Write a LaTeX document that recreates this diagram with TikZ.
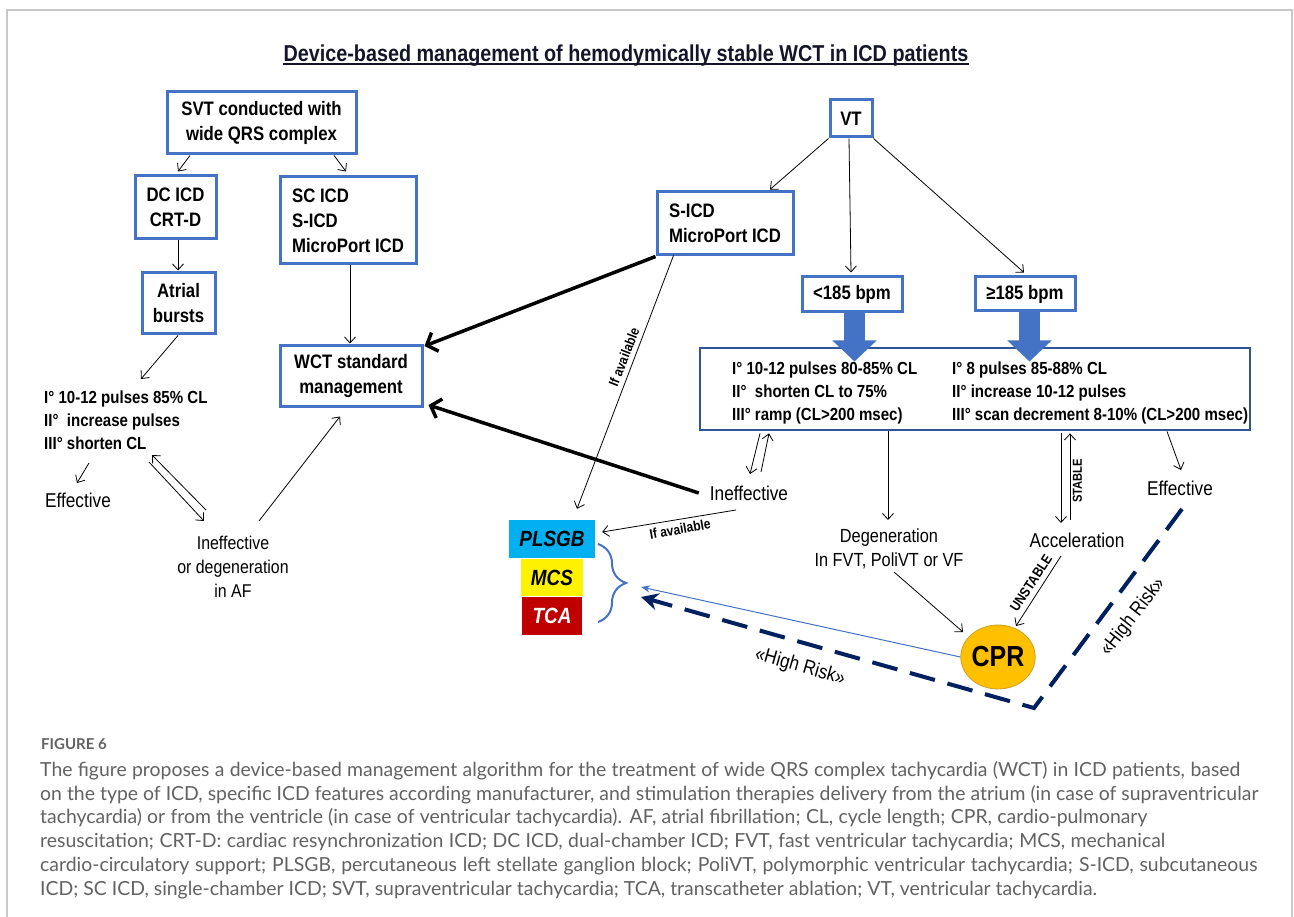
\documentclass[tikz,border=0pt]{standalone}
\usepackage{fontspec}
\setmainfont[FakeStretch=0.86]{Liberation Sans}
\newfontfamily\capfont{Lato}
\usetikzlibrary{arrows.meta,shapes.geometric,decorations.pathreplacing,calc}
\definecolor{boxblue}{HTML}{4472C4}
\definecolor{bigblue}{HTML}{2F5597}
\definecolor{navyc}{HTML}{002060}
\definecolor{plsgbc}{HTML}{00B0F0}
\definecolor{tcared}{HTML}{C00000}
\definecolor{cprfill}{HTML}{FFC000}
\definecolor{cprdraw}{HTML}{C9A227}
\definecolor{capgray}{HTML}{626262}
\definecolor{framegray}{HTML}{C8C8C8}
\definecolor{titlec}{HTML}{15152A}
\tikzset{
 bbox/.style={draw=boxblue, line width=3pt, inner sep=0pt, font=\bfseries\fontsize{19.5}{25}\selectfont, align=center},
 arr/.style={-{Straight Barb[length=6pt,width=11pt]}, line width=0.8pt},
 thickarr/.style={-{Straight Barb[length=9pt,width=20pt]}, line width=3.5pt},
 plain/.style={font=\fontsize{20}{24}\selectfont, inner sep=2pt, align=center},
 smalllbl/.style={font=\bfseries\fontsize{14}{16}\selectfont, inner sep=0pt},
 therapy/.style={font=\bfseries\fontsize{17.5}{23}\selectfont, align=left, inner sep=0pt, anchor=west},
 colbox/.style={inner sep=0pt, font=\bfseries\itshape\fontsize{22}{26}\selectfont},
 captxt/.style={font=\capfont\fontsize{19.4}{24}\selectfont, text=capgray, anchor=base west, inner sep=0pt},
 blockarr/.style={-{Triangle[length=21pt,width=43pt]}, line width=21pt, draw=boxblue},
}
\begin{document}
\begin{tikzpicture}[x=1pt,y=-1pt]
\useasboundingbox (0,0) rectangle (1294,917);
\fill[white] (0,0) rectangle (1294,917);
\draw[framegray, line width=1.5pt] (7,917) -- (7,10) -- (1292,10) -- (1292,917);

% title
\node[inner sep=0pt, font=\bfseries\fontsize{23}{27}\selectfont, text=titlec, anchor=base] (title) at (626,61.5) {Device-based management of hemodymically stable WCT in ICD patients};
\draw[titlec, line width=1.2pt] ([yshift=-2.5pt]title.base west) -- ([yshift=-2.5pt]title.base east);

% left boxes
\node[bbox, minimum width=189pt, minimum height=62pt] (svt) at (261.5,123) {SVT conducted with\\wide QRS complex};
\node[bbox, minimum width=81pt, minimum height=63pt] (dc) at (175.5,207.5) {DC ICD\\CRT-D};
\node[bbox, minimum width=136pt, minimum height=87pt, align=left] (sc) at (348,220.5) {SC ICD\\S-ICD\\MicroPort ICD};
\node[bbox, minimum width=73pt, minimum height=61pt] (atrial) at (178.5,303.5) {Atrial\\bursts};
\node[bbox, minimum width=142pt, minimum height=61pt] (wct) at (351,376.5) {WCT standard\\management};

\node[therapy] (lefttxt) at (44,420.5) {I° 10-12 pulses 85\% CL\\II°~ increase pulses\\III° shorten CL};
\node[plain] (effL) at (78,500) {Effective};
\node[plain, font=\fontsize{18.5}{24}\selectfont] (ineffL) at (233,567) {Ineffective\\or degeneration\\in AF};

% right boxes
\node[bbox, minimum width=42pt, minimum height=37pt] (vt) at (851,118.5) {VT};
\node[bbox, minimum width=136pt, minimum height=63pt, align=left] (sicd) at (725,223.5) {S-ICD\\MicroPort ICD};
\node[bbox, minimum width=100pt, minimum height=35pt] (lt185) at (852,294.5) {<185 bpm};
\node[bbox, minimum width=100pt, minimum height=34pt] (ge185) at (1025,294) {≥185 bpm};
\node[draw=bigblue, line width=2.8pt, minimum width=550pt, minimum height=82pt, inner sep=0pt] (big) at (975,389) {};
\node[therapy] (thl) at (732,393) {I° 10-12 pulses 80-85\% CL\\II°~ shorten CL to 75\%\\III° ramp (CL>200 msec)};
\node[therapy] (thr) at (952,393) {I° 8 pulses 85-88\% CL\\II° increase 10-12 pulses\\III° scan decrement 8-10\% (CL>200 msec)};

\node[plain] (ineffR) at (749,493) {Ineffective};
\node[plain, font=\fontsize{19}{24}\selectfont] (degen) at (889,549) {Degeneration\\In FVT, PoliVT or VF};
\node[plain] (accel) at (1077,540) {Acceleration};
\node[plain] (effR) at (1180,488) {Effective};

\node[ellipse, fill=cprfill, draw=cprdraw, line width=0.8pt, minimum width=72pt, minimum height=64pt, inner sep=0pt, font=\bfseries\fontsize{29}{30}\selectfont] (cpr) at (998,657) {CPR};

\node[colbox, fill=plsgbc, minimum width=86pt, minimum height=38pt] (plsgb) at (552,539) {PLSGB};
\node[colbox, fill=yellow, minimum width=62pt, minimum height=37pt] (mcs) at (552,577.5) {MCS};
\node[colbox, fill=tcared, text=white, minimum width=60pt, minimum height=38pt] (tca) at (552,616) {TCA};

% brace
\coordinate (btop) at (598,544);
\coordinate (bbot) at (598,622);
\coordinate (btip) at (626,583);
\draw[boxblue, line width=2pt, decorate, decoration={brace, amplitude=28pt}] (btop) -- (bbot);

% left connectors
\draw[arr] ([shift={(-71.5,0)}]svt.south) -- ([shift={(2.5,-3)}]dc.north);
\draw[arr] ([shift={(72.5,0)}]svt.south) -- ([shift={(-2,-4)}]sc.north);
\draw[arr] ([xshift=2.5pt]dc.south) -- ([shift={(-0.5,-1)}]atrial.north);
\draw[arr] ([xshift=2pt]sc.south) -- ([shift={(-1,-1)}]wct.north);
\draw[arr] ([xshift=-0.5pt]atrial.south) -- ([shift={(97,-41.5)}]lefttxt.west);
\draw[arr] ([shift={(45,42.5)}]lefttxt.west) -- ([shift={(-1,-17)}]effL.center);
\draw[arr] ([shift={(105,41.5)}]lefttxt.west) -- ([shift={(-29,-46)}]ineffL.center);
\draw[arr] ([shift={(-27,-57)}]ineffL.center) -- ([shift={(108,34.5)}]lefttxt.west);
\draw[arr] ([shift={(26,-46)}]ineffL.center) -- ([shift={(-11,8)}]wct.south);

% right connectors
\draw[arr] (vt.south west) -- ([shift={(45,-1)}]sicd.north);
\draw[arr] ([xshift=-2pt]vt.south) -- ([shift={(-1,-3)}]lt185.north);
\draw[arr] (vt.south east) -- ([shift={(-1,-3)}]ge185.north);
\draw[blockarr] ([xshift=2.5pt]lt185.south) -- ++(0,48);
\draw[blockarr] ([xshift=4.5pt]ge185.south) -- ++(0,49);

\draw[arr] ([shift={(-215,2)}]big.south) -- ([shift={(1,-19)}]ineffR.center);
\draw[arr] ([shift={(12,-21)}]ineffR.center) -- ([shift={(-206,2)}]big.south);
\draw[arr] ([shift={(-87,0)}]big.south) -- ([shift={(-1,-29)}]degen.center);
\draw[arr] ([shift={(86,2)}]big.south) -- ([shift={(-16,-17)}]accel.center);
\draw[arr] ([shift={(-7,-20)}]accel.center) -- ([shift={(95,2)}]big.south);
\node[smalllbl, font=\bfseries\fontsize{13}{15}\selectfont, rotate=90] (stable) at (1077.5,481) {STABLE};
\draw[arr] ([shift={(192,0)}]big.south) -- ([shift={(1,-18)}]effR.center);

\draw[thickarr] (sicd.south west) -- ([shift={(1,-30.5)}]wct.east);
\draw[thickarr] ([xshift=-9pt]ineffR.west) -- ([shift={(5,28.5)}]wct.east);

\draw[arr] ([shift={(18,-1)}]sicd.south west) -- ([shift={(25,-11)}]plsgb.north);
\node[smalllbl, rotate=68.7] (ifa1) at (624,357) {If available};
\draw[arr] ([shift={(-13,17)}]ineffR.center) -- ([shift={(7,-7)}]plsgb.east);
\node[smalllbl, rotate=10] (ifa2) at (680,529) {If available};

\draw[arr] ([shift={(5,23)}]degen.center) -- ([shift={(-35,-25)}]cpr.center);
\draw[arr] ([shift={(-16,16)}]accel.center) -- ([shift={(18,-31)}]cpr.center);
\node[smalllbl, rotate=57] (unst) at (1031,583) {UNSTABLE};

\draw[boxblue, line width=1pt, -{Stealth[length=9pt,width=7pt]}] (cpr.west) -- ([shift={(15,4)}]btip);

\coordinate (hr) at (1034,708);
\draw[navyc, line width=4pt, dash pattern=on 26pt off 13pt, -{Stealth[length=17pt,width=17pt]}] ([shift={(2,21)}]effR.center) -- (hr) -- ([shift={(15,14)}]btip);
\node[plain, rotate=-16] (hr1) at (800,667) {«High Risk»};
\node[plain, rotate=52] (hr2) at (1133,617) {«High Risk»};

% caption
\node[captxt, font=\capfont\bfseries\fontsize{15}{18}\selectfont] (fig) at (41,749) {FIGURE 6};
\node[captxt] (c1) at (40,776.5) {\makebox[1200pt][s]{The figure proposes a device-based management algorithm for the treatment of wide QRS complex tachycardia (WCT) in ICD patients, based}};
\node[captxt] (c2) at (40,800.2) {\makebox[1218pt][s]{on the type of ICD, specific ICD features according manufacturer, and stimulation therapies delivery from the atrium (in case of supraventricular}};
\node[captxt] (c3) at (40,823.9) {\makebox[1107pt][s]{tachycardia) or from the ventricle (in case of ventricular tachycardia). AF, atrial fibrillation; CL, cycle length; CPR, cardio-pulmonary}};
\node[captxt] (c4) at (40,847.6) {\makebox[1125pt][s]{resuscitation; CRT-D: cardiac resynchronization ICD; DC ICD, dual-chamber ICD; FVT, fast ventricular tachycardia; MCS, mechanical}};
\node[captxt] (c5) at (40,871.3) {\makebox[1217pt][s]{cardio-circulatory support; PLSGB, percutaneous left stellate ganglion block; PoliVT, polymorphic ventricular tachycardia; S-ICD, subcutaneous}};
\node[captxt] (c6) at (40,895) {ICD; SC ICD, single-chamber ICD; SVT, supraventricular tachycardia; TCA, transcatheter ablation; VT, ventricular tachycardia.};
\end{tikzpicture}
\end{document}
